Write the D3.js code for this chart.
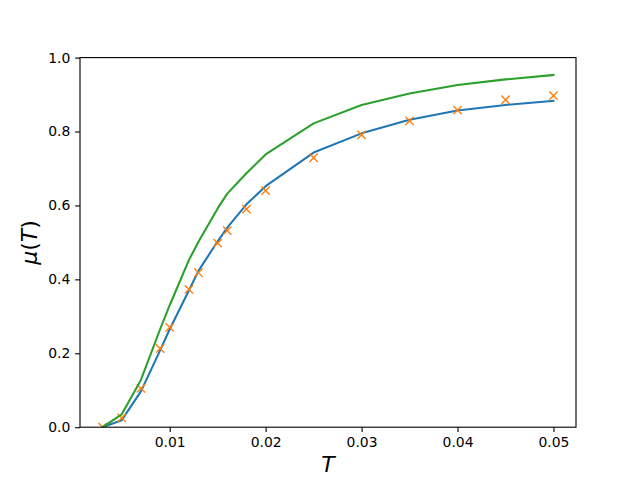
<!DOCTYPE html>
<html><head><meta charset="utf-8">
<script src="https://cdn.jsdelivr.net/npm/d3@7"></script>
<style>body{margin:0;background:#fff}svg{display:block}text{font-family:"DejaVu Sans",sans-serif}</style>
</head><body>
<script>
const T = [0.003,0.005,0.007,0.009,0.010,0.012,0.013,0.015,0.016,0.018,0.020,0.025,0.030,0.035,0.040,0.045,0.050];
const muBlue = [0.0,0.019,0.097,0.208,0.265,0.37,0.423,0.503,0.54,0.603,0.652,0.743,0.795,0.832,0.857,0.872,0.883];
const muOrange = [0.0,0.025,0.105,0.213,0.27,0.373,0.418,0.498,0.532,0.59,0.64,0.729,0.791,0.829,0.858,0.886,0.897];
const muGreen = [0.0,0.035,0.128,0.265,0.33,0.452,0.502,0.592,0.632,0.687,0.738,0.822,0.872,0.903,0.926,0.941,0.953];
const xTicks = [0.01,0.02,0.03,0.04,0.05];
const yTicks = [0.0,0.2,0.4,0.6,0.8,1.0];

const W=640,H=480, L=80,R=576,Tp=57.6,B=427.2;
const svg=d3.select("body").append("svg").attr("width",W).attr("height",H);
const x=d3.scaleLinear().domain([0.003-0.047*0.05,0.05+0.047*0.05]).range([L,R]);
const y=d3.scaleLinear().domain([0,1]).range([B,Tp]);

svg.append("clipPath").attr("id","clip").append("rect").attr("x",L).attr("y",Tp).attr("width",R-L).attr("height",B-Tp);
const g=svg.append("g").attr("clip-path","url(#clip)");
const line=d3.line().x(d=>x(d[0])).y(d=>y(d[1]));
g.append("path").datum(T.map((t,i)=>[t,muBlue[i]])).attr("d",line).attr("fill","none").attr("stroke","#1f77b4").attr("stroke-width",2.08).attr("stroke-linejoin","round").attr("stroke-linecap","square");
const ms=4.17;
g.selectAll(".mk").data(T.map((t,i)=>[t,muOrange[i]])).enter().append("path")
 .attr("d",d=>{const cx=x(d[0]),cy=y(d[1]);return `M${cx-ms},${cy-ms}L${cx+ms},${cy+ms}M${cx-ms},${cy+ms}L${cx+ms},${cy-ms}`;})
 .attr("stroke","#ff7f0e").attr("stroke-width",1.39).attr("fill","none");
g.append("path").datum(T.map((t,i)=>[t,muGreen[i]])).attr("d",line).attr("fill","none").attr("stroke","#2ca02c").attr("stroke-width",2.08).attr("stroke-linejoin","round").attr("stroke-linecap","square");

const xa=svg.append("g").attr("transform",`translate(0,${B})`).call(d3.axisBottom(x).tickValues(xTicks).tickFormat(d3.format(".2f")).tickSize(4.86).tickPadding(4.86));
const ya=svg.append("g").attr("transform",`translate(${L},0)`).call(d3.axisLeft(y).tickValues(yTicks).tickFormat(d3.format(".1f")).tickSize(4.86).tickPadding(4.86));
[xa,ya].forEach(a=>{a.select(".domain").remove();a.selectAll("line").attr("stroke","#000").attr("stroke-width",1.11);a.selectAll("text").attr("font-size","13.9px").attr("fill","#000").style("font-family","DejaVu Sans");});
svg.append("rect").attr("x",L).attr("y",Tp).attr("width",R-L).attr("height",B-Tp).attr("fill","none").attr("stroke","#000").attr("stroke-width",1.11);

svg.append("text").attr("x",(L+R)/2).attr("y",472).attr("text-anchor","middle").attr("font-size","22px").attr("font-style","italic").text("T");
const yl=svg.append("text").attr("transform",`translate(37,${(Tp+B)/2}) rotate(-90)`).attr("text-anchor","middle").attr("font-size","22px");
yl.append("tspan").attr("font-style","italic").text("μ");
yl.append("tspan").text("(");
yl.append("tspan").attr("font-style","italic").text("T");
yl.append("tspan").text(")");
</script>
</body></html>
